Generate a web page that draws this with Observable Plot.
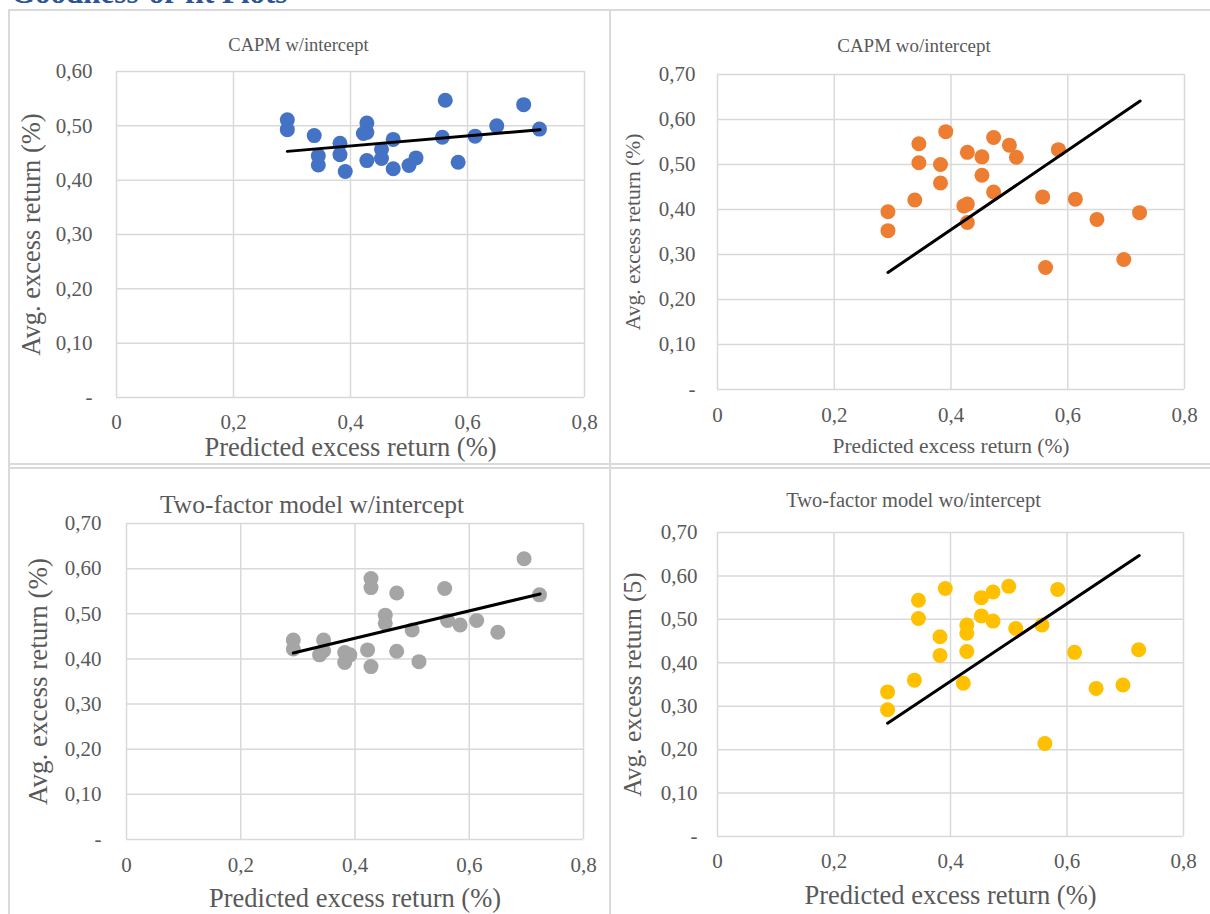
<!DOCTYPE html>
<html>
<head>
<meta charset="utf-8">
<script src="https://cdn.jsdelivr.net/npm/d3@7"></script>
<script src="https://cdn.jsdelivr.net/npm/@observablehq/plot@0.6"></script>
<style>
  html, body { margin: 0; padding: 0; background: #ffffff; }
  #page { position: relative; width: 1210px; height: 914px; overflow: hidden; background: #ffffff; }
  .panel { position: absolute; }
  .rule { position: absolute; background: #dadada; }
  #doc-title { position: absolute; left: 11px; top: -25px; font: bold 31px "Liberation Serif", serif; color: #2F5496; white-space: nowrap; }
</style>
</head>
<body>
<div id="page">
  <div id="doc-title">Goodness-of-fit Plots</div>
</div>
<script>
// ---- data ----
const predicted = [0.292, 0.292, 0.338, 0.345, 0.345, 0.382, 0.382, 0.391, 0.422, 0.428, 0.428, 0.428,
                   0.453, 0.453, 0.473, 0.473, 0.500, 0.512, 0.557, 0.562, 0.584, 0.613, 0.650, 0.696, 0.723];
const capmWithIntercept = [0.511, 0.493, 0.482, 0.445, 0.428, 0.468, 0.447, 0.416, 0.486, 0.488, 0.505, 0.436,
                           0.457, 0.440, 0.475, 0.421, 0.427, 0.441, 0.479, 0.547, 0.433, 0.481, 0.500, 0.539, 0.494];
const capmWithoutIntercept = [0.395, 0.353, 0.421, 0.546, 0.504, 0.500, 0.459, 0.573, 0.408, 0.412, 0.527, 0.371,
                              0.517, 0.476, 0.560, 0.439, 0.543, 0.516, 0.428, 0.271, 0.533, 0.423, 0.378, 0.289, 0.393];
const twoFactorWithIntercept = [0.442, 0.422, 0.409, 0.442, 0.418, 0.414, 0.392, 0.409, 0.420, 0.578, 0.558, 0.383,
                                0.497, 0.479, 0.546, 0.417, 0.464, 0.394, 0.556, 0.485, 0.475, 0.485, 0.459, 0.622, 0.542];
const twoFactorWithoutIntercept = [0.333, 0.292, 0.360, 0.544, 0.502, 0.460, 0.417, 0.571, 0.353, 0.487, 0.468, 0.426,
                                   0.550, 0.508, 0.563, 0.496, 0.576, 0.479, 0.487, 0.214, 0.569, 0.424, 0.341, 0.349, 0.430];

// fitted trend lines (endpoints)
const fitX = [0.292, 0.724];
const fitCapmWith = [0.453, 0.493];
const fitCapmWithout = [0.260, 0.641];
const fitTwoWith = [0.413, 0.544];
const fitTwoWithout = [0.261, 0.647];

// tick labels
const xTicks = [0, 0.2, 0.4, 0.6, 0.8];
const yTicks06 = [0, 0.1, 0.2, 0.3, 0.4, 0.5, 0.6];
const yTicks07 = [0, 0.1, 0.2, 0.3, 0.4, 0.5, 0.6, 0.7];

const titles = ["CAPM w/intercept", "CAPM wo/intercept", "Two-factor model w/intercept", "Two-factor model wo/intercept"];
const xLabels = ["Predicted excess return (%)", "Predicted excess return (%)", "Predicted excess return (%)", "Predicted excess return (%)"];
const yLabels = ["Avg. excess return (%)", "Avg. excess return (%)", "Avg. excess return (%)", "Avg. excess return (5)"];
const colors = ["#4472C4", "#ED7D31", "#A5A5A5", "#FFC000"];

// ---- drawing ----
const FONT = "'Liberation Serif', 'Times New Roman', serif";
const TXT = "#595959";
const fmtY = d => d === 0 ? "-" : d.toFixed(2).replace(".", ",");
const fmtX = d => d === 0 ? "0" : d.toFixed(1).replace(".", ",");

function panel(cfg) {
  const pts = predicted.map((x, i) => ({x, y: cfg.ys[i]}));
  const fit = fitX.map((x, i) => ({x, y: cfg.fit[i]}));
  const txt = {fontFamily: FONT, fill: TXT, textAnchor: "middle", lineAnchor: "middle", text: d => d};
  return Plot.plot({
    width: cfg.w, height: cfg.h,
    marginLeft: cfg.ml, marginRight: cfg.mr, marginTop: cfg.mt, marginBottom: cfg.mb,
    x: {domain: [0, 0.8]},
    y: {domain: [0, cfg.ymax]},
    style: {fontFamily: FONT, color: TXT, background: "transparent", overflow: "visible", fontSize: cfg.tickFs + "px"},
    marks: [
      Plot.ruleX(xTicks, {stroke: "#d9d9d9", strokeWidth: 1.5}),
      Plot.ruleY(cfg.yTicks, {stroke: "#d9d9d9", strokeWidth: 1.5}),
      Plot.axisY({ticks: cfg.yTicks, tickSize: 0, tickPadding: cfg.yPad, tickFormat: fmtY, label: null, fontSize: cfg.tickFs, fontFamily: FONT, fill: TXT}),
      Plot.axisX({ticks: xTicks, tickSize: 0, tickPadding: cfg.xPad, tickFormat: fmtX, label: null, fontSize: cfg.tickFs, fontFamily: FONT, fill: TXT}),
      Plot.dot(pts, {x: "x", y: "y", r: 7.5, fill: cfg.color}),
      Plot.line(fit, {x: "x", y: "y", stroke: "#000000", strokeWidth: 3}),
      Plot.text([cfg.title], {...txt, frameAnchor: "top", dx: cfg.tdx, dy: cfg.tdy, fontSize: cfg.titleFs}),
      Plot.text([cfg.xLabel], {...txt, frameAnchor: "bottom", dy: cfg.xldy, fontSize: cfg.xlFs}),
      Plot.text([cfg.yLabel], {...txt, frameAnchor: "left", rotate: -90, dx: cfg.yldx, fontSize: cfg.ylFs})
    ]
  });
}

const page = document.getElementById("page");
const configs = [
  {left: 0, top: 0, w: 605, h: 462, ml: 116, mr: 21, mt: 71, mb: 65, ymax: 0.6, yTicks: yTicks06,
   ys: capmWithIntercept, fit: fitCapmWith, color: colors[0], title: titles[0], xLabel: xLabels[0], yLabel: yLabels[0],
   tickFs: 21, yPad: 24, xPad: 17, titleFs: 18.5, tdx: -52, tdy: -26, xlFs: 26.5, xldy: 50, ylFs: 26.5, yldx: -85},
  {left: 605, top: 0, w: 605, h: 462, ml: 112, mr: 26, mt: 74, mb: 73, ymax: 0.7, yTicks: yTicks07,
   ys: capmWithoutIntercept, fit: fitCapmWithout, color: colors[1], title: titles[1], xLabel: xLabels[1], yLabel: yLabels[1],
   tickFs: 21, yPad: 22, xPad: 18, titleFs: 19, tdx: -37, tdy: -29, xlFs: 21.5, xldy: 57, ylFs: 21.5, yldx: -84},
  {left: 0, top: 462, w: 605, h: 452, ml: 126, mr: 22, mt: 61, mb: 75, ymax: 0.7, yTicks: yTicks07,
   ys: twoFactorWithIntercept, fit: fitTwoWith, color: colors[2], title: titles[2], xLabel: xLabels[2], yLabel: yLabels[2],
   tickFs: 21, yPad: 25, xPad: 18, titleFs: 25.5, tdx: -43, tdy: -19, xlFs: 26.5, xldy: 59, ylFs: 27, yldx: -88},
  {left: 605, top: 462, w: 605, h: 452, ml: 112, mr: 27, mt: 70, mb: 78, ymax: 0.7, yTicks: yTicks07,
   ys: twoFactorWithoutIntercept, fit: fitTwoWithout, color: colors[3], title: titles[3], xLabel: xLabels[3], yLabel: yLabels[3],
   tickFs: 21, yPad: 20, xPad: 17, titleFs: 20.5, tdx: -37, tdy: -32, xlFs: 26.5, xldy: 59, ylFs: 25.5, yldx: -85}
];
for (const cfg of configs) {
  const svg = panel(cfg);
  svg.classList.add("panel");
  svg.style.left = cfg.left + "px";
  svg.style.top = cfg.top + "px";
  page.appendChild(svg);
}

// panel border lines (layout only)
function rule(l, t, w, h) {
  const d = document.createElement("div");
  d.className = "rule";
  Object.assign(d.style, {left: l + "px", top: t + "px", width: w + "px", height: h + "px"});
  page.appendChild(d);
}
rule(8, 9, 1202, 2);
rule(8, 9, 2, 905);
rule(609, 9, 2, 905);
rule(8, 463, 1202, 2);
rule(8, 467, 1202, 2);
</script>
</body>
</html>
